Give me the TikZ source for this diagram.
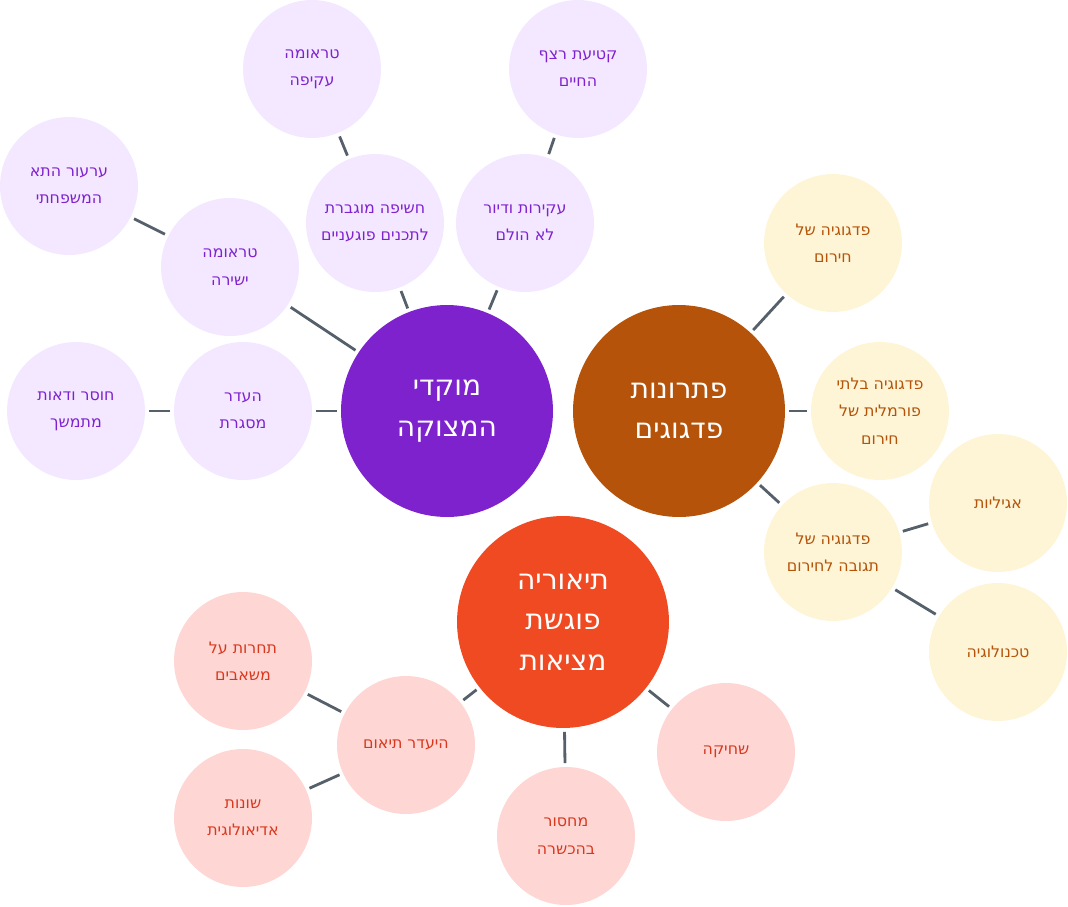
\documentclass[tikz,border=0pt]{standalone}
\usepackage{fontspec}
\setmainfont{DejaVu Sans}
\TeXXeTstate=1
\newcommand{\heb}[1]{\beginR #1\endR}
\definecolor{purpleA}{HTML}{7E22CE}
\definecolor{purpleB}{HTML}{F3E8FF}
\definecolor{orangeA}{HTML}{B45309}
\definecolor{orangeB}{HTML}{FEF5D6}
\definecolor{redA}{HTML}{F04A23}
\definecolor{redB}{HTML}{FED7D5}
\definecolor{redT}{HTML}{D9381E}
\definecolor{linkgray}{HTML}{56606A}
\begin{document}
\begin{tikzpicture}[x=0.02cm, y=-0.02cm,
    big/.style = {circle, minimum size=4.24cm, inner sep=0pt, align=center,
        text=white, font=\fontsize{16}{23}\selectfont},
    small/.style = {circle, minimum size=2.76cm, inner sep=0pt, align=center,
        font=\fontsize{9}{15.5}\selectfont},
    pu/.style = {small, fill=purpleB, text=purpleA},
    or/.style = {small, fill=orangeB, text=orangeA},
    re/.style = {small, fill=redB, text=redT},
    link/.style = {draw=linkgray, line width=1.6pt}]
    \useasboundingbox (0,0) rectangle (1068,906);

    % main topics
    \node[big, fill=purpleA] (crisis) at (447,411) {\heb{מוקדי}\\\heb{המצוקה}};
    \node[big, fill=orangeA] (solve) at (679,411) {\heb{פתרונות}\\\heb{פדגוגים}};
    \node[big, fill=redA] (theory) at (563,622) {\heb{תיאוריה}\\\heb{פוגשת}\\\heb{מציאות}};

    % crisis branch
    \node[pu] (frame) at (243,411) {\heb{העדר}\\\heb{מסגרת}};
    \node[pu] (doubt) at (76,411) {\heb{חוסר ודאות}\\\heb{מתמשך}};
    \node[pu] (direct) at (230,267) {\heb{טראומה}\\\heb{ישירה}};
    \node[pu] (family) at (69,186) {\heb{ערעור התא}\\\heb{המשפחתי}};
    \node[pu] (expose) at (375,223) {\heb{חשיפה מוגברת}\\\heb{לתכנים פוגעניים}};
    \node[pu] (indirect) at (312,69) {\heb{טראומה}\\\heb{עקיפה}};
    \node[pu] (uproot) at (525,223) {\heb{עקירות ודיור}\\\heb{לא הולם}};
    \node[pu] (cut) at (578,69) {\heb{קטיעת רצף}\\\heb{החיים}};

    % solutions branch
    \node[or] (emerg) at (833,243) {\heb{פדגוגיה של}\\\heb{חירום}};
    \node[or] (inform) at (880,411) {\heb{פדגוגיה בלתי}\\\heb{פורמלית של}\\\heb{חירום}};
    \node[or] (react) at (833,552) {\heb{פדגוגיה של}\\\heb{תגובה לחירום}};
    \node[or] (agile) at (998,503) {\heb{אגיליות}};
    \node[or] (tech) at (998,652) {\heb{טכנולוגיה}};

    % theory branch
    \node[re] (compete) at (243,661) {\heb{תחרות על}\\\heb{משאבים}};
    \node[re] (coord) at (406,745) {\heb{היעדר תיאום}};
    \node[re] (ideol) at (243,818) {\heb{שונות}\\\heb{אדיאולוגית}};
    \node[re] (train) at (566,836) {\heb{מחסור}\\\heb{בהכשרה}};
    \node[re] (burn) at (726,752) {\heb{שחיקה}};

    \foreach \a/\b in {crisis/frame, frame/doubt, crisis/direct, direct/family,
        crisis/expose, expose/indirect, crisis/uproot, uproot/cut,
        solve/emerg, solve/inform, solve/react, react/agile, react/tech,
        theory/coord, coord/compete, coord/ideol, theory/train, theory/burn}
        \draw[link, shorten <=2pt, shorten >=2pt] (\a) -- (\b);
\end{tikzpicture}
\end{document}
